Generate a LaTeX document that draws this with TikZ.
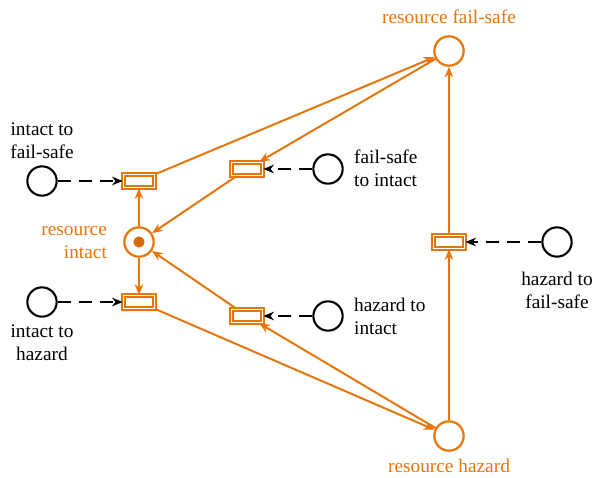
\documentclass[tikz,border=0pt]{standalone}
\usepackage{fontspec}
\setmainfont{Liberation Serif}
\usetikzlibrary{arrows.meta}
\definecolor{petri}{RGB}{230,117,10}

\begin{document}
\begin{tikzpicture}[x=0.03cm,y=-0.03cm,>=Stealth,
  font=\fontsize{16.5}{19.6}\selectfont,
  place/.style={circle,draw=petri,line width=1.9pt,minimum size=0.88cm,inner sep=0pt},
  ctrl/.style={circle,draw=black,line width=1.8pt,minimum size=0.88cm,inner sep=0pt},
  trans/.style={rectangle,draw=petri,double=white,double distance=1.2pt,line width=1.5pt,minimum width=0.93cm,minimum height=0.38cm,inner sep=0pt},
  flow/.style={-{Stealth[length=3.2mm,width=2.6mm]},draw=petri,line width=1.7pt},
  inhib/.style={-{Stealth[length=3.2mm,width=2.6mm]},black,line width=1.7pt,dash pattern=on 0.39cm off 0.24cm},
  lbl/.style={text=petri,align=center}]
\useasboundingbox (0,0) rectangle (593,477);

% places
\node[place] (fs) at (449,51) {};
\node[place] (ri) at (139,242) {};
\node[place] (hz) at (449,436) {};
\fill[petri!92!black] (ri.center) circle (0.17cm);
\node[lbl] at (449,17) {resource fail-safe};
\node[lbl,align=right,anchor=east] at (111,243) {resource\\intact};
\node[lbl] at (449,466) {resource hazard};

% transitions
\node[trans] (t1) at (139,181) {};
\node[trans] (t2) at (247,169) {};
\node[trans] (t3) at (139,302) {};
\node[trans] (t4) at (247,316) {};
\node[trans] (t5) at (449,242) {};

% control inputs
\node[ctrl] (c1) at (42,181) {};
\node[ctrl] (c2) at (328,169) {};
\node[ctrl] (c3) at (42,302) {};
\node[ctrl] (c4) at (328,316) {};
\node[ctrl] (c5) at (557,242) {};
\node[align=center] at (42,141) {intact to\\fail-safe};
\node[align=left,anchor=west] at (350,168) {fail-safe\\to intact};
\node[align=center] at (42,343) {intact to\\hazard};
\node[align=left,anchor=west] at (350,316) {hazard to\\intact};
\node[align=center] at (557,290) {hazard to\\fail-safe};

% token flow
\draw[flow] (ri) -- (t1);
\draw[flow] (t1) -- (fs);
\draw[flow] (fs) -- (t2);
\draw[flow] (t2) -- (ri);
\draw[flow] (ri) -- (t3);
\draw[flow] (t3) -- (hz);
\draw[flow] (hz) -- (t4);
\draw[flow] (t4) -- (ri);
\draw[flow] (hz) -- (t5);
\draw[flow] (t5) -- (fs);

% triggers
\draw[inhib] (c1) -- (t1);
\draw[inhib] (c2) -- (t2);
\draw[inhib] (c3) -- (t3);
\draw[inhib] (c4) -- (t4);
\draw[inhib] (c5) -- (t5);
\end{tikzpicture}
\end{document}
